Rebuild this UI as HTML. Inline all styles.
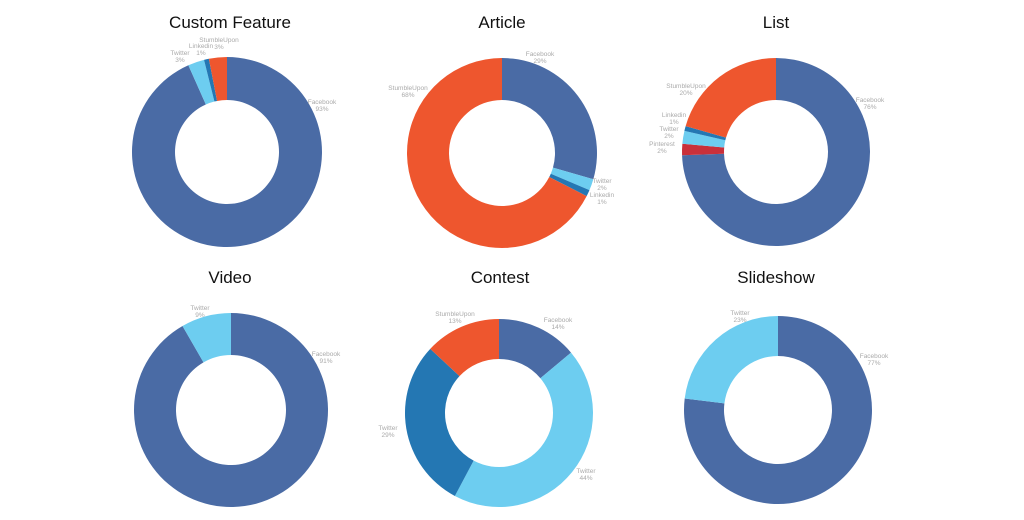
<!DOCTYPE html>
<html><head><meta charset="utf-8"><style>
html,body{margin:0;padding:0;background:#fff}
svg{display:block}
.t{font-family:"Liberation Sans",sans-serif;font-size:17px;fill:#111;text-anchor:middle}
.l{font-family:"Liberation Sans",sans-serif;font-size:6.5px;fill:#aaa;text-anchor:middle}
</style></head><body>
<svg id="s" width="1024" height="520" xmlns="http://www.w3.org/2000/svg">
<text class="t" x="230" y="28">Custom Feature</text>
<text class="t" x="502" y="28">Article</text>
<text class="t" x="776" y="28">List</text>
<text class="t" x="230" y="283">Video</text>
<text class="t" x="500" y="283">Contest</text>
<text class="t" x="776" y="283">Slideshow</text>
<g id="g"></g>
<g>
<text class="l" x="322" y="104">Facebook</text><text class="l" x="322" y="111">93%</text>
<text class="l" x="180" y="55">Twitter</text><text class="l" x="180" y="62">3%</text>
<text class="l" x="201" y="48">Linkedin</text><text class="l" x="201" y="55">1%</text>
<text class="l" x="219" y="42">StumbleUpon</text><text class="l" x="219" y="49">3%</text>
<text class="l" x="540" y="56">Facebook</text><text class="l" x="540" y="63">29%</text>
<text class="l" x="408" y="90">StumbleUpon</text><text class="l" x="408" y="97">68%</text>
<text class="l" x="602" y="183">Twitter</text><text class="l" x="602" y="190">2%</text>
<text class="l" x="602" y="197">Linkedin</text><text class="l" x="602" y="204">1%</text>
<text class="l" x="870" y="102">Facebook</text><text class="l" x="870" y="109">76%</text>
<text class="l" x="686" y="88">StumbleUpon</text><text class="l" x="686" y="95">20%</text>
<text class="l" x="674" y="117">Linkedin</text><text class="l" x="674" y="124">1%</text>
<text class="l" x="669" y="131">Twitter</text><text class="l" x="669" y="138">2%</text>
<text class="l" x="662" y="146">Pinterest</text><text class="l" x="662" y="153">2%</text>
<text class="l" x="326" y="356">Facebook</text><text class="l" x="326" y="363">91%</text>
<text class="l" x="200" y="310">Twitter</text><text class="l" x="200" y="317">9%</text>
<text class="l" x="558" y="322">Facebook</text><text class="l" x="558" y="329">14%</text>
<text class="l" x="455" y="316">StumbleUpon</text><text class="l" x="455" y="323">13%</text>
<text class="l" x="388" y="430">Twitter</text><text class="l" x="388" y="437">29%</text>
<text class="l" x="586" y="473">Twitter</text><text class="l" x="586" y="480">44%</text>
<text class="l" x="874" y="358">Facebook</text><text class="l" x="874" y="365">77%</text>
<text class="l" x="740" y="315">Twitter</text><text class="l" x="740" y="322">23%</text>
</g>
</svg>
<script>
var FB="#4a6ba5",SU="#ee562e",LT="#6dcdf0",DK="#2477b3",PI="#c9303a";
var charts=[
[227,152,95,52,[[0,336,FB],[336,346,LT],[346,349,DK],[349,360,SU]]],
[502,153,95,53,[[0,106,FB],[106,113,LT],[113,117,DK],[117,360,SU]]],
[776,152,94,52,[[0,268,FB],[268,275,PI],[275,283,LT],[283,286,DK],[286,360,SU]]],
[231,410,97,55,[[0,330,FB],[330,360,LT]]],
[499,413,94,54,[[0,50,FB],[50,208,LT],[208,313,DK],[313,360,SU]]],
[778,410,94,54,[[0,277,FB],[277,360,LT]]]];
function pt(cx,cy,r,a){a=(a-90)*Math.PI/180;return (cx+r*Math.cos(a)).toFixed(2)+" "+(cy+r*Math.sin(a)).toFixed(2);}
var h="";
charts.forEach(function(c){var cx=c[0],cy=c[1],R=c[2],r=c[3];
c[4].forEach(function(s){var a0=s[0],a1=s[1],lg=(a1-a0)>180?1:0;
if(a1-a0>=359.9)a1=359.9;
h+='<path fill="'+s[2]+'" d="M'+pt(cx,cy,R,a0)+' A'+R+' '+R+' 0 '+lg+' 1 '+pt(cx,cy,R,a1)+' L'+pt(cx,cy,r,a1)+' A'+r+' '+r+' 0 '+lg+' 0 '+pt(cx,cy,r,a0)+' Z"/>';});});
document.getElementById("g").innerHTML=h;
</script>
</body></html>
